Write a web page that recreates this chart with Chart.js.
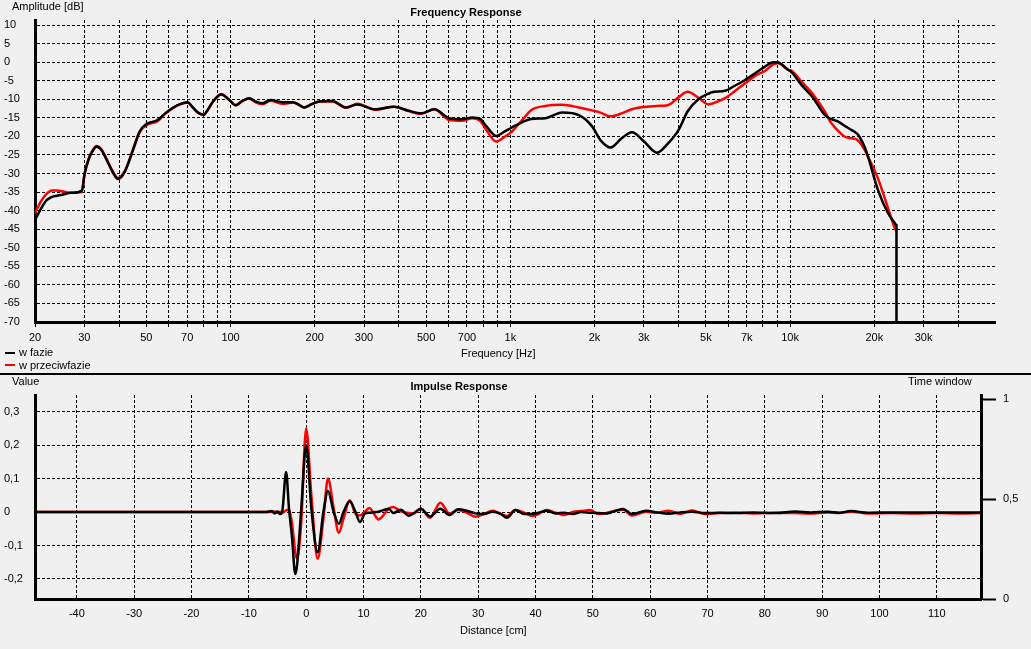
<!DOCTYPE html>
<html>
<head>
<meta charset="utf-8">
<script src="https://cdn.jsdelivr.net/npm/chart.js@4.4.1/dist/chart.umd.min.js"></script>
<style>
  body { margin: 0; background: #f0f0f0; width: 1031px; height: 649px; overflow: hidden; position: relative;
         font-family: "Liberation Sans", Arial, sans-serif; font-size: 11px; color: #000; }
  canvas { position: absolute; left: 0; }
  .t { position: absolute; line-height: 13px; white-space: nowrap; }
  .b { font-weight: bold; transform: translateX(-50%); }
  .sw { position: absolute; width: 10px; height: 2px; }
</style>
</head>
<body>
<canvas id="freqChart" width="1031" height="372" style="top:0"></canvas>
<canvas id="impChart" width="1031" height="273" style="top:376px"></canvas>

<div class="t" style="left:12px;top:0px">Amplitude [dB]</div>
<div class="t b" style="left:466px;top:6px">Frequency Response</div>
<div class="t" style="left:461px;top:347px">Frequency [Hz]</div>
<div class="sw" style="left:5px;top:352px;background:#000"></div>
<div class="t" style="left:19px;top:346px">w fazie</div>
<div class="sw" style="left:5px;top:364px;background:#f00"></div>
<div class="t" style="left:19px;top:359px">w przeciwfazie</div>
<div style="position:absolute;left:0;top:373px;width:1031px;height:2px;background:#000"></div>
<div class="t" style="left:12px;top:375px">Value</div>
<div class="t b" style="left:459px;top:380px">Impulse Response</div>
<div class="t" style="left:908px;top:375px">Time window</div>
<div class="t" style="left:460px;top:624px">Distance [cm]</div>

<script>
// frequency response
var freq = [20, 21, 22, 23, 24, 25, 27, 29.4, 30.1, 31, 32, 33.2, 34.5, 36, 38, 39.6, 41.9, 44.8, 47.3, 50,
  54.8, 58.4, 62.2, 66, 70.2, 73.1, 76.5, 80.1, 83, 86.6, 92.6, 99, 104.2, 110, 116.7, 123, 130, 139, 153.7, 167,
  176, 183, 195, 208, 231, 259, 284, 328, 384, 433, 480, 535, 605, 670, 731, 780, 820, 890, 950, 1013,
  1100, 1190, 1336, 1533, 1757, 1960, 2100, 2280, 2500, 2720, 3000, 3344, 3650, 3992, 4300, 4700, 5110, 5250, 5860, 6300,
  6905, 7570, 8130, 8700, 9078, 9855, 10100, 11000, 12000, 13300, 14000, 14860, 15700, 16600, 17300, 17700, 18500, 19000, 20600, 22400,
  23700, 24000, 24000];
var dbInPhase = [-42.5, -39.5, -37.2, -36.3, -36, -35.7, -35.2, -34.6, -30, -26.5, -24.2, -22.8, -23.6, -26.2, -29.8, -31.5, -29.5, -23.7, -18.7, -16.7,
  -15.6, -13.8, -12.3, -11.3, -10.8, -12.1, -13.6, -14.2, -12.8, -10.6, -8.7, -10.2, -11.6, -10.5, -9.7, -10.6, -11.1, -10.2, -10.8, -10.8,
  -11.5, -12.2, -11.3, -10.6, -10.5, -12.2, -11.4, -12.7, -12, -13.1, -13.8, -12.7, -15.1, -15.4, -14.9, -15.3, -17.2, -19.9, -18.8, -17.6,
  -16.2, -15.3, -15.1, -13.6, -14.3, -17.3, -21, -23, -20.5, -18.9, -21.3, -24.4, -22, -18.3, -13.3, -10, -8.5, -8.1, -7.7, -6.5,
  -4.8, -2.8, -1.2, 0, -0.1, -2.1, -2.6, -6.2, -9.3, -14.2, -15.3, -16, -17.2, -18.3, -19.2, -20.1, -23, -25.5, -34.4, -40.7,
  -43.4, -44, -70];
var dbAntiPhase = [-40.7, -37.5, -35.5, -34.6, -34.6, -34.8, -35.2, -35, -30, -26.3, -24, -22.6, -23.4, -26, -29.5, -31.2, -29.3, -23.5, -18.9, -17,
  -15.9, -13.9, -12.4, -11.4, -10.9, -12.1, -13.6, -14.2, -12.8, -10.6, -8.6, -10.2, -11.6, -10.5, -9.8, -10.8, -11.3, -10.4, -11.2, -10.9,
  -11.6, -12.2, -11.3, -10.6, -10.6, -12.3, -11.2, -12.8, -12, -13.2, -13.9, -12.7, -15.6, -15.8, -15.1, -15.8, -18.2, -21.4, -20.2, -18.7,
  -15.7, -12.9, -11.8, -11.5, -12.2, -13, -13.6, -14.6, -13.8, -12.7, -12.1, -11.8, -11.6, -9.5, -8, -9.6, -11.4, -11.2, -9.7, -8,
  -5.7, -3.5, -2.4, -0.6, -0.3, -2.1, -2.3, -5.3, -8.4, -13.3, -16.3, -18.5, -20.1, -20.5, -20.8, -21.5, -23.7, -25.5, -31.3, -39.4,
  -44.8, -45.5, null];
var freqTicks = [20, 30, 40, 50, 60, 70, 80, 90, 100, 200, 300, 400, 500, 600, 700, 800, 900,
  1000, 2000, 3000, 4000, 5000, 6000, 7000, 8000, 9000, 10000, 20000, 30000, 40000];
var freqLabels = {20: '20', 30: '30', 50: '50', 70: '70', 100: '100', 200: '200', 300: '300', 500: '500', 700: '700',
  1000: '1k', 2000: '2k', 3000: '3k', 5000: '5k', 7000: '7k', 10000: '10k', 20000: '20k', 30000: '30k'};
var dbTicks = [-70, -65, -60, -55, -50, -45, -40, -35, -30, -25, -20, -15, -10, -5, 0, 5, 10];

// impulse response
var distance = [-47.3, -7, -6, -5.5, -5, -4.6, -4.2, -3.5, -3, -2.5, -1.9, -1.6, -0.9, 0, 0.9, 2, 3, 3.8, 4.8, 5.7,
  6.5, 7.6, 8.6, 9.4, 10.2, 11, 12.2, 12.6, 14.4, 15.2, 16.5, 17.9, 18.7, 20, 21.6, 23.4, 25, 26.5, 28, 29.5,
  31, 32.5, 34, 35, 36.5, 38, 39.5, 40.5, 42, 43.5, 45, 46.5, 48, 49.5, 51, 52.5, 54, 55.3, 56.8, 59.3,
  61.2, 63.2, 65.3, 67.3, 69.5, 72, 75, 78, 82, 85.3, 88, 91, 93, 95, 98, 102, 106, 110, 114, 117.7];
var impInPhase = [0, 0, 0.003, -0.004, 0.002, -0.006, 0, 0.12, 0.01, -0.07, -0.185, -0.16, 0, 0.2, 0.01, -0.12, 0, 0.063, 0, -0.035,
  0, 0.032, 0, -0.03, -0.005, -0.002, 0, 0.001, 0.01, -0.003, 0.007, -0.011, -0.004, 0.01, -0.013, 0.01, -0.009, 0.008, 0.004, -0.004,
  -0.006, 0.001, -0.006, -0.017, 0.006, -0.006, -0.006, -0.002, 0.004, -0.004, -0.002, -0.006, 0, -0.002, -0.003, -0.004, 0.004, 0.009, -0.006, 0.004,
  -0.001, -0.005, -0.001, 0.001, -0.003, -0.002, -0.003, -0.001, -0.003, 0.002, -0.001, 0.001, -0.002, 0.003, -0.002, -0.001, -0.001, -0.001, -0.001, -0.001];
var impAntiPhase = [0, 0, 0, 0.002, -0.002, 0.001, -0.003, 0.005, 0.007, -0.03, -0.12, -0.14, -0.04, 0.25, 0.05, -0.14, -0.02, 0.1, 0.01, -0.062,
  -0.02, 0.035, -0.005, -0.01, 0, 0.012, -0.015, -0.022, 0.01, 0.015, 0.002, -0.003, -0.005, 0.01, -0.017, 0.028, -0.005, 0.006, -0.002, -0.014,
  -0.006, 0.004, -0.006, -0.012, 0.006, -0.002, -0.012, -0.006, 0.006, -0.002, -0.009, 0, 0.003, 0.006, -0.006, -0.002, 0.004, 0.007, -0.01, 0.001,
  -0.002, 0.004, -0.005, 0.005, -0.006, -0.003, -0.002, -0.004, -0.002, -0.003, -0.004, -0.001, -0.003, 0.001, -0.004, -0.003, -0.004, -0.003, -0.004, -0.003];
var distTicks = [-40, -30, -20, -10, 0, 10, 20, 30, 40, 50, 60, 70, 80, 90, 100, 110];
var valueTicks = [-0.2, -0.1, 0, 0.1, 0.2, 0.3];
var windowTicks = [0, 0.5, 1];

Chart.defaults.font.family = '"Liberation Sans", Arial, sans-serif';
Chart.defaults.font.size = 11;
Chart.defaults.color = '#000';

function setTicks(list) {
    return function (scale) { scale.ticks = list.map(function (v) { return { value: v }; }); };
}
function comma(v) { return String(v).replace('.', ','); }

var gridDash = { color: '#000', lineWidth: 1, tickColor: '#000', tickBorderDash: [3, 2] };

new Chart(document.getElementById('freqChart'), {
    type: 'line',
    data: {
        datasets: [{
            label: 'w fazie',
            data: freq.map(function (f, i) { return { x: f, y: dbInPhase[i] }; }),
            borderColor: '#000',
            borderWidth: 2.5,
            pointRadius: 0,
            cubicInterpolationMode: 'monotone'
        }, {
            label: 'w przeciwfazie',
            data: freq.map(function (f, i) { return { x: f, y: dbAntiPhase[i] }; }),
            borderColor: '#f00',
            borderWidth: 2.5,
            pointRadius: 0,
            cubicInterpolationMode: 'monotone'
        }]
    },
    options: {
        responsive: false,
        animation: false,
        layout: { padding: { left: 4, right: 36, top: 20, bottom: 0 } },
        plugins: { legend: { display: false }, tooltip: { enabled: false } },
        scales: {
            x: {
                type: 'logarithmic',
                min: 20,
                max: 54000,
                afterBuildTicks: setTicks(freqTicks),
                afterFit: function (s) { s.height = 50; },
                grid: Object.assign({ tickLength: 6 }, gridDash),
                border: { color: '#000', width: 3, dash: [3, 2] },
                ticks: {
                    autoSkip: false, maxRotation: 0, padding: 3,
                    callback: function (v) { return freqLabels[v] || ''; }
                }
            },
            y: {
                min: -70,
                max: 11.35,
                afterBuildTicks: setTicks(dbTicks),
                afterFit: function (s) { s.width = 31; },
                grid: Object.assign({ drawTicks: false }, gridDash),
                border: { color: '#000', width: 3, dash: [3, 2] },
                ticks: { crossAlign: 'far', padding: 0 }
            }
        }
    }
});

new Chart(document.getElementById('impChart'), {
    type: 'line',
    data: {
        datasets: [{
            label: 'w fazie',
            data: distance.map(function (d, i) { return { x: d, y: impInPhase[i] }; }),
            borderColor: '#000',
            borderWidth: 2.5,
            pointRadius: 0,
            cubicInterpolationMode: 'monotone'
        }, {
            label: 'w przeciwfazie',
            data: distance.map(function (d, i) { return { x: d, y: impAntiPhase[i] }; }),
            borderColor: '#f00',
            borderWidth: 2.5,
            pointRadius: 0,
            cubicInterpolationMode: 'monotone'
        }]
    },
    options: {
        responsive: false,
        animation: false,
        layout: { padding: { left: 4, right: 0, top: 19, bottom: 0 } },
        plugins: { legend: { display: false }, tooltip: { enabled: false } },
        scales: {
            x: {
                type: 'linear',
                min: -47.3,
                max: 117.7,
                afterBuildTicks: setTicks(distTicks),
                afterFit: function (s) { s.height = 50; },
                grid: Object.assign({ drawTicks: false }, gridDash),
                border: { color: '#000', width: 3, dash: [3, 2] },
                ticks: { autoSkip: false, maxRotation: 0, padding: 8 }
            },
            y: {
                min: -0.26,
                max: 0.35,
                afterBuildTicks: setTicks(valueTicks),
                afterFit: function (s) { s.width = 31; },
                grid: Object.assign({ drawTicks: false }, gridDash),
                border: { color: '#000', width: 3, dash: [3, 2] },
                ticks: { crossAlign: 'far', padding: 0, callback: comma }
            },
            y1: {
                position: 'right',
                min: 0,
                max: 1.02,
                afterBuildTicks: setTicks(windowTicks),
                afterFit: function (s) { s.width = 50; },
                grid: { drawOnChartArea: false, tickLength: 15, tickColor: '#000', tickWidth: 2 },
                border: { color: '#000', width: 3 },
                ticks: { padding: 7, callback: comma }
            }
        }
    }
});
</script>
</body>
</html>
